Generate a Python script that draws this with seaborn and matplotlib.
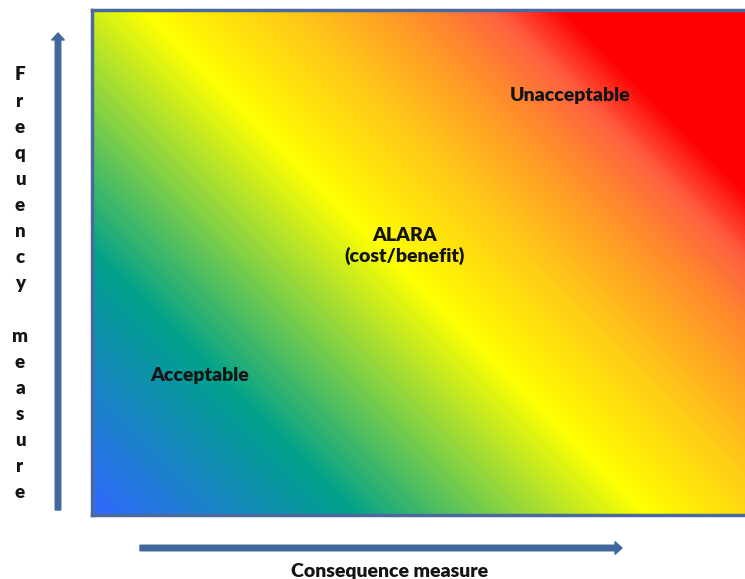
import numpy as np
import matplotlib.pyplot as plt
import seaborn as sns
from matplotlib.colors import LinearSegmentedColormap

# colour stops along the diagonal, bottom-left (0) to top-right (1)
stop_pos = [0.0, 0.22, 0.475, 0.61, 0.71, 0.775, 0.835, 1.0]
stop_colors = ["#3168ff", "#00a08c", "#ffff00", "#ffc21a", "#ff8c2a",
               "#ff6040", "#ff0000", "#ff0000"]

zone_labels = ["Acceptable", "ALARA\n(cost/benefit)", "Unacceptable"]
y_label = "Frequency measure"
x_label = "Consequence measure"

W, H = 745, 579
sns.set_theme(style="white")
plt.rcParams["font.family"] = ["Lato", "DejaVu Sans"]

fig = plt.figure(figsize=(W / 100, H / 100), dpi=100)
# rectangle runs past the right edge of the picture
ax = fig.add_axes([92 / W, 64 / H, 668 / W, 505 / H])

nrows, ncols = 253, 334
rows, cols = np.mgrid[0:nrows, 0:ncols]
grid = (cols + (nrows - 1 - rows)) / (ncols + nrows - 2)

cmap = LinearSegmentedColormap.from_list("risk", list(zip(stop_pos, stop_colors)))
sns.heatmap(grid, cmap=cmap, vmin=0, vmax=1, cbar=False, ax=ax,
            xticklabels=False, yticklabels=False, rasterized=True)
for sp in ax.spines.values():
    sp.set_visible(True)
    sp.set_color("#4a6a9c")
    sp.set_linewidth(2.5)

def px(x, y):
    return x / W, 1 - y / H

txt = dict(fontweight="heavy", color="#141414", ha="center", va="center")
fig.text(*px(200, 376), zone_labels[0], fontsize=14, **txt)
fig.text(*px(405, 246), zone_labels[1], fontsize=14, linespacing=1.15, **txt)
fig.text(*px(570, 96), zone_labels[2], fontsize=14, **txt)

# vertical label, one letter per line
for i, ch in enumerate(y_label):
    if ch != " ":
        fig.text(*px(20, 75 + i * 26.1), ch, fontsize=13.5, **txt)

fig.text(*px(390, 572), x_label, fontsize=14, **txt)

arrow = dict(arrowstyle="simple,head_length=0.5,head_width=0.9,tail_width=0.4",
             color="#41689c", mutation_scale=10, shrinkA=0, shrinkB=0)
ax.annotate("", xy=(58, H - 33), xytext=(58, H - 510), xycoords="figure pixels",
            textcoords="figure pixels", arrowprops=arrow, annotation_clip=False)
ax.annotate("", xy=(622, H - 548), xytext=(140, H - 548), xycoords="figure pixels",
            textcoords="figure pixels", arrowprops=arrow, annotation_clip=False)

fig.savefig("out.png", dpi=100)
